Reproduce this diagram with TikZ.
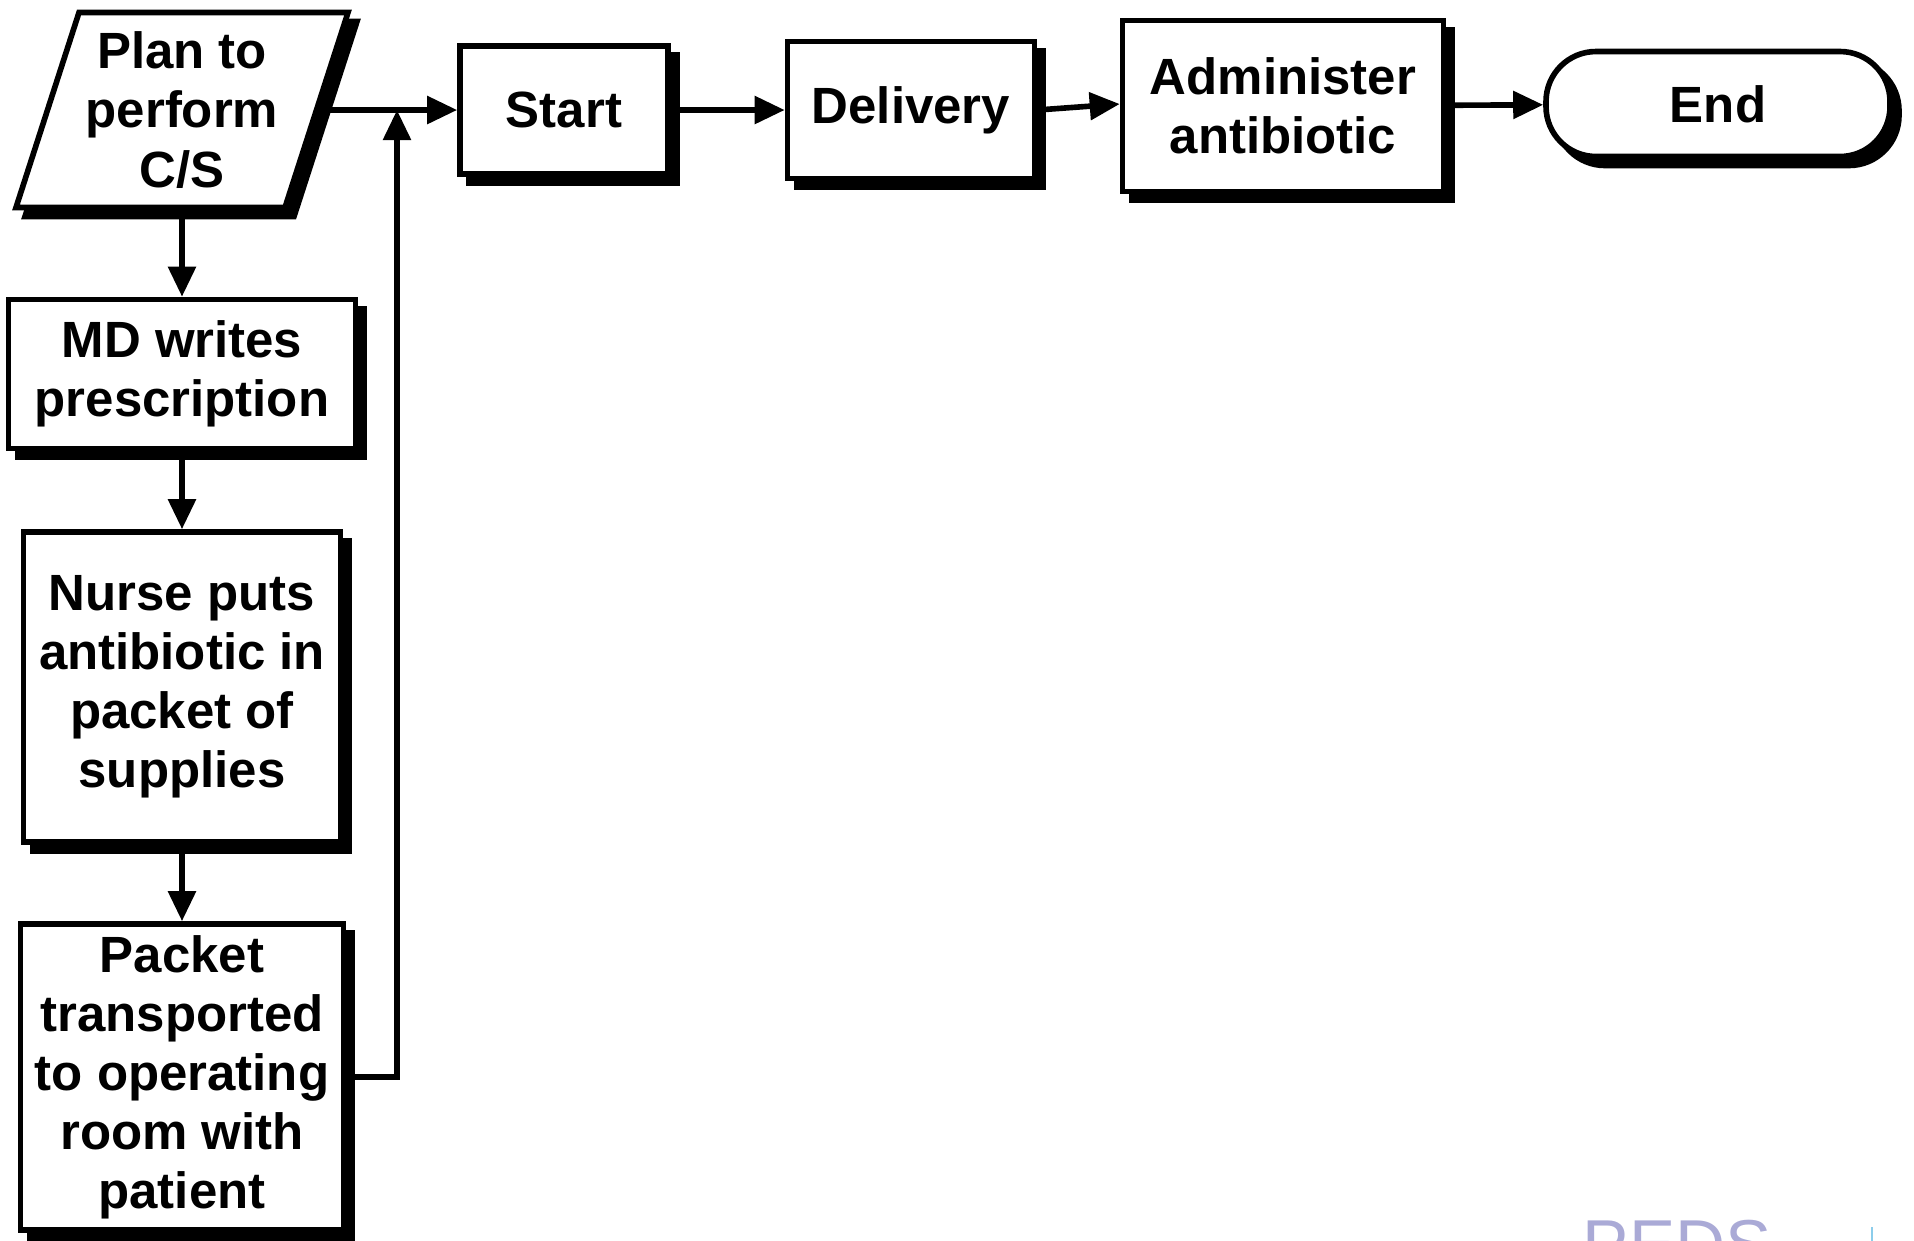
\documentclass[tikz,border=0pt]{standalone}
\usepackage{fontspec}
\setmainfont{Liberation Sans}
\usetikzlibrary{arrows.meta,shadows}
\definecolor{pedsviolet}{RGB}{170,170,214}
\definecolor{pedsblue}{RGB}{140,205,235}
\begin{document}
\begin{tikzpicture}[line width=1.6pt,
    shade box/.style={draw,fill=white,
      drop shadow={opacity=1,fill=black,draw=black,shadow xshift=0.09cm,shadow yshift=-0.09cm}},
    label text/.style={align=center,inner sep=0pt,font=\bfseries\fontsize{14.5}{16.8}\selectfont},
    box/.style={shade box,label text},
    >={Triangle[length=0.3cm,width=0.27cm]}]
      \useasboundingbox (0,0) rectangle (19.14,-12.40);

      \coordinate (c) at (1.82,-1.10);
      \draw[shade box,shift={(c)}] (-1.66,-0.975) -- (1.03,-0.975) -- (1.66,0.975) -- (-1.03,0.975) -- cycle;
      \node [label text,minimum width=2.69cm,minimum height=1.95cm] (1) at (c) {Plan to\\perform\\C/S};
      \node [box,below of=1,yshift=-1.64cm,minimum width=3.47cm,minimum height=1.49cm] (2) {MD writes\\prescription};
      \node [box,below of=2,yshift=-2.13cm,minimum width=3.17cm,minimum height=3.10cm] (3) {Nurse puts\\antibiotic in\\packet of\\supplies};
      \node [box,below of=3,yshift=-2.90cm,minimum width=3.23cm,minimum height=3.06cm] (4) {Packet\\transported\\to operating\\room with\\patient};
      \node [box,right of=1,xshift=2.82cm,minimum width=2.08cm,minimum height=1.28cm] (5) {Start};
      \node [box,right of=5,xshift=2.47cm,minimum width=2.47cm,minimum height=1.37cm] (6) {Delivery};
      \node [box,right of=6,xshift=2.72cm,yshift=0.04cm,minimum width=3.21cm,minimum height=1.71cm] (7) {Administer\\antibiotic};
      \node [box,right of=7,xshift=3.35cm,yshift=0.02cm,rounded corners=0.5cm,minimum width=3.44cm,minimum height=1.05cm] (8) {End};
      \coordinate [right of=1,xshift=1.15cm] (j);

      \draw[->] (1) -- (2);
      \draw[->] (2) -- (3);
      \draw[->] (3) -- (4);
      \draw[->] (1) -- (5);
      \draw[->] (4.east) -| (j);
      \draw[->] (5) -- (6);
      \draw[->] (6.east) -- ([yshift=0.02cm]7.west);
      \draw[->] (7) -- (8);

      \node [anchor=base west,inner sep=0pt,text=pedsviolet,font=\fontsize{19.7}{24}\selectfont] (logo) at (15.80,-12.68) {PEDS};
      \draw[pedsblue,line width=0.6pt] (18.72,-12.27) -- (18.72,-12.60);
    \end{tikzpicture}
\end{document}
